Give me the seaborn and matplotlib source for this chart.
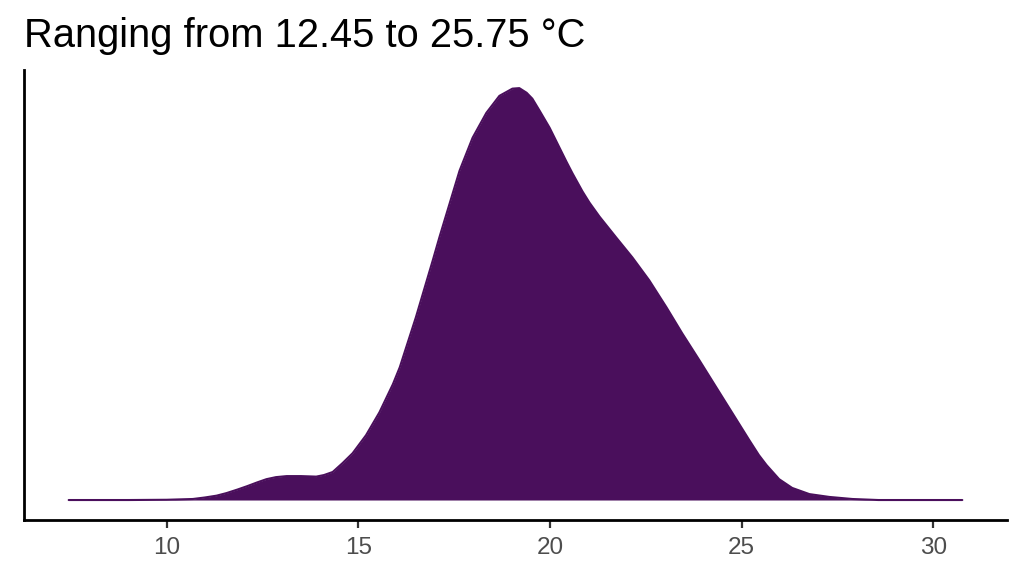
import matplotlib
matplotlib.use('Agg')
import matplotlib.pyplot as plt
import seaborn as sns
import pandas as pd

# density curve (temperature in °C, estimated density)
temp = [7.44, 9.0, 10.0, 10.68, 11.0, 11.3, 11.56, 11.85, 12.1, 12.35,
        12.6, 12.85, 13.13, 13.5, 13.9, 14.1, 14.33, 14.59, 14.85, 15.2,
        15.55, 15.9, 16.08, 16.5, 16.94, 17.12, 17.38, 17.64, 17.98, 18.34,
        18.68, 19.02, 19.2, 19.39, 19.54, 19.73, 19.99, 20.17, 20.43, 20.59,
        20.85, 21.03, 21.29, 21.73, 22.15, 22.59, 23.04, 23.45, 23.9, 24.34,
        24.6, 24.76, 24.94, 25.2, 25.45, 25.65, 25.98, 26.32, 26.77, 27.29,
        27.89, 28.57, 30.76]
density = [0.0, 0.0, 0.0001, 0.0004, 0.0010, 0.0017, 0.0027, 0.0041, 0.0054, 0.0068,
           0.0081, 0.0089, 0.0093, 0.0093, 0.0091, 0.0097, 0.0109, 0.0144, 0.0182, 0.0252,
           0.0341, 0.0450, 0.0516, 0.0710, 0.0931, 0.1024, 0.1152, 0.1280, 0.1408, 0.1505,
           0.1571, 0.1599, 0.1601, 0.1583, 0.1560, 0.1513, 0.1447, 0.1393, 0.1315, 0.1269,
           0.1199, 0.1156, 0.1102, 0.1020, 0.0943, 0.0854, 0.0749, 0.0648, 0.0543, 0.0438,
           0.0376, 0.0338, 0.0295, 0.0233, 0.0175, 0.0136, 0.0081, 0.0047, 0.0023, 0.0012,
           0.0004, 0.0, 0.0]
x_ticks = [10, 15, 20, 25, 30]
title = "Ranging from 12.45 to 25.75 °C"

df = pd.DataFrame({'temp': temp, 'density': density})
fill_col = '#4a0f5c'

sns.set_theme(style='ticks')
plt.rcParams['font.family'] = ['Liberation Sans', 'DejaVu Sans']

fig = plt.figure(figsize=(10.24, 5.76), dpi=100)
ax = fig.add_axes([24 / 1024, 1 - 520 / 576, 983 / 1024, 450 / 576])

ax.fill_between(df['temp'], 0, df['density'], color=fill_col, linewidth=0)
sns.lineplot(data=df, x='temp', y='density', ax=ax, color=fill_col, linewidth=1.5)

span = temp[-1] - temp[0]
ax.set_xlim(temp[0] - 0.05 * span, temp[-1] + 0.05 * span)
peak = max(density)
ax.set_ylim(-0.0485 * peak, 1.044 * peak)

ax.set_xticks(x_ticks)
ax.set_xticklabels([str(t) for t in x_ticks])
ax.set_yticks([])
ax.set_xlabel('')
ax.set_ylabel('')
ax.tick_params(axis='x', length=6, width=1.6, color='#333333',
               labelsize=17.5, labelcolor='#4d4d4d', pad=6)

sns.despine(ax=ax)
for s in ['left', 'bottom']:
    ax.spines[s].set_color('black')
    ax.spines[s].set_linewidth(2)

fig.text(24 / 1024, 1 - 47 / 576, title, fontsize=28.7, color='black',
         ha='left', va='baseline')

fig.savefig('out.png', dpi=100)
